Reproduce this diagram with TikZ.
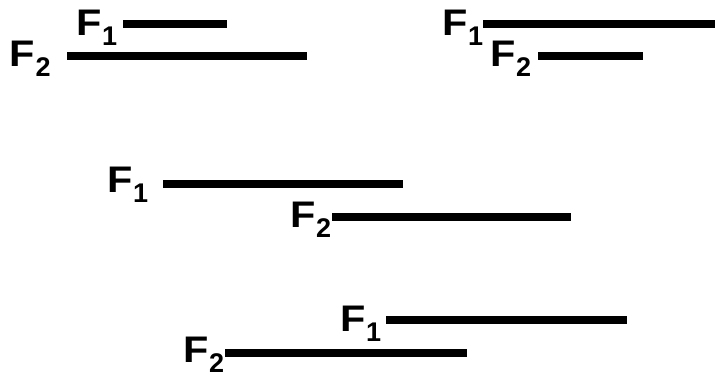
\documentclass[tikz,border=0pt]{standalone}
\usepackage{fontspec}
\setmainfont{Liberation Sans}
\newfontfamily\widefont{Liberation Sans}[FakeStretch=1.12]
\newcommand{\forcelab}[1]{\textbf{{\widefont F}\kern0.5pt\raisebox{-10pt}{\fontsize{27}{27}\selectfont #1}}}
\begin{document}
\begin{tikzpicture}[x=1pt,y=-1pt,
  flab/.style={anchor=base west,inner sep=0pt,font=\fontsize{37}{37}\selectfont},
  bar/.style={line width=7.5pt,line cap=butt}]
\useasboundingbox (0,0) rectangle (715,372);
% top left pair
\node[flab] (a1) at (76,35) {\forcelab{1}};
\node[flab] (a2) at (9.5,66) {\forcelab{2}};
\coordinate (a1s) at (123,24); \coordinate (a1e) at (227,24);
\coordinate (a2s) at (67,56);  \coordinate (a2e) at (307,56);
\draw[bar] (a1s) -- (a1e);
\draw[bar] (a2s) -- (a2e);
% top right pair
\node[flab] (b1) at (442,35) {\forcelab{1}};
\node[flab] (b2) at (490,66) {\forcelab{2}};
\coordinate (b1s) at (483,24); \coordinate (b1e) at (715,24);
\coordinate (b2s) at (538,56); \coordinate (b2e) at (643,56);
\draw[bar] (b1s) -- (b1e);
\draw[bar] (b2s) -- (b2e);
% middle pair
\node[flab] (c1) at (107,192) {\forcelab{1}};
\node[flab] (c2) at (290,227) {\forcelab{2}};
\coordinate (c1s) at (163,184); \coordinate (c1e) at (403,184);
\coordinate (c2s) at (332,217); \coordinate (c2e) at (571,217);
\draw[bar] (c1s) -- (c1e);
\draw[bar] (c2s) -- (c2e);
% bottom pair
\node[flab] (d1) at (340,331) {\forcelab{1}};
\node[flab] (d2) at (183,362) {\forcelab{2}};
\coordinate (d1s) at (386,320); \coordinate (d1e) at (627,320);
\coordinate (d2s) at (225,353); \coordinate (d2e) at (467,353);
\draw[bar] (d1s) -- (d1e);
\draw[bar] (d2s) -- (d2e);
\end{tikzpicture}
\end{document}
